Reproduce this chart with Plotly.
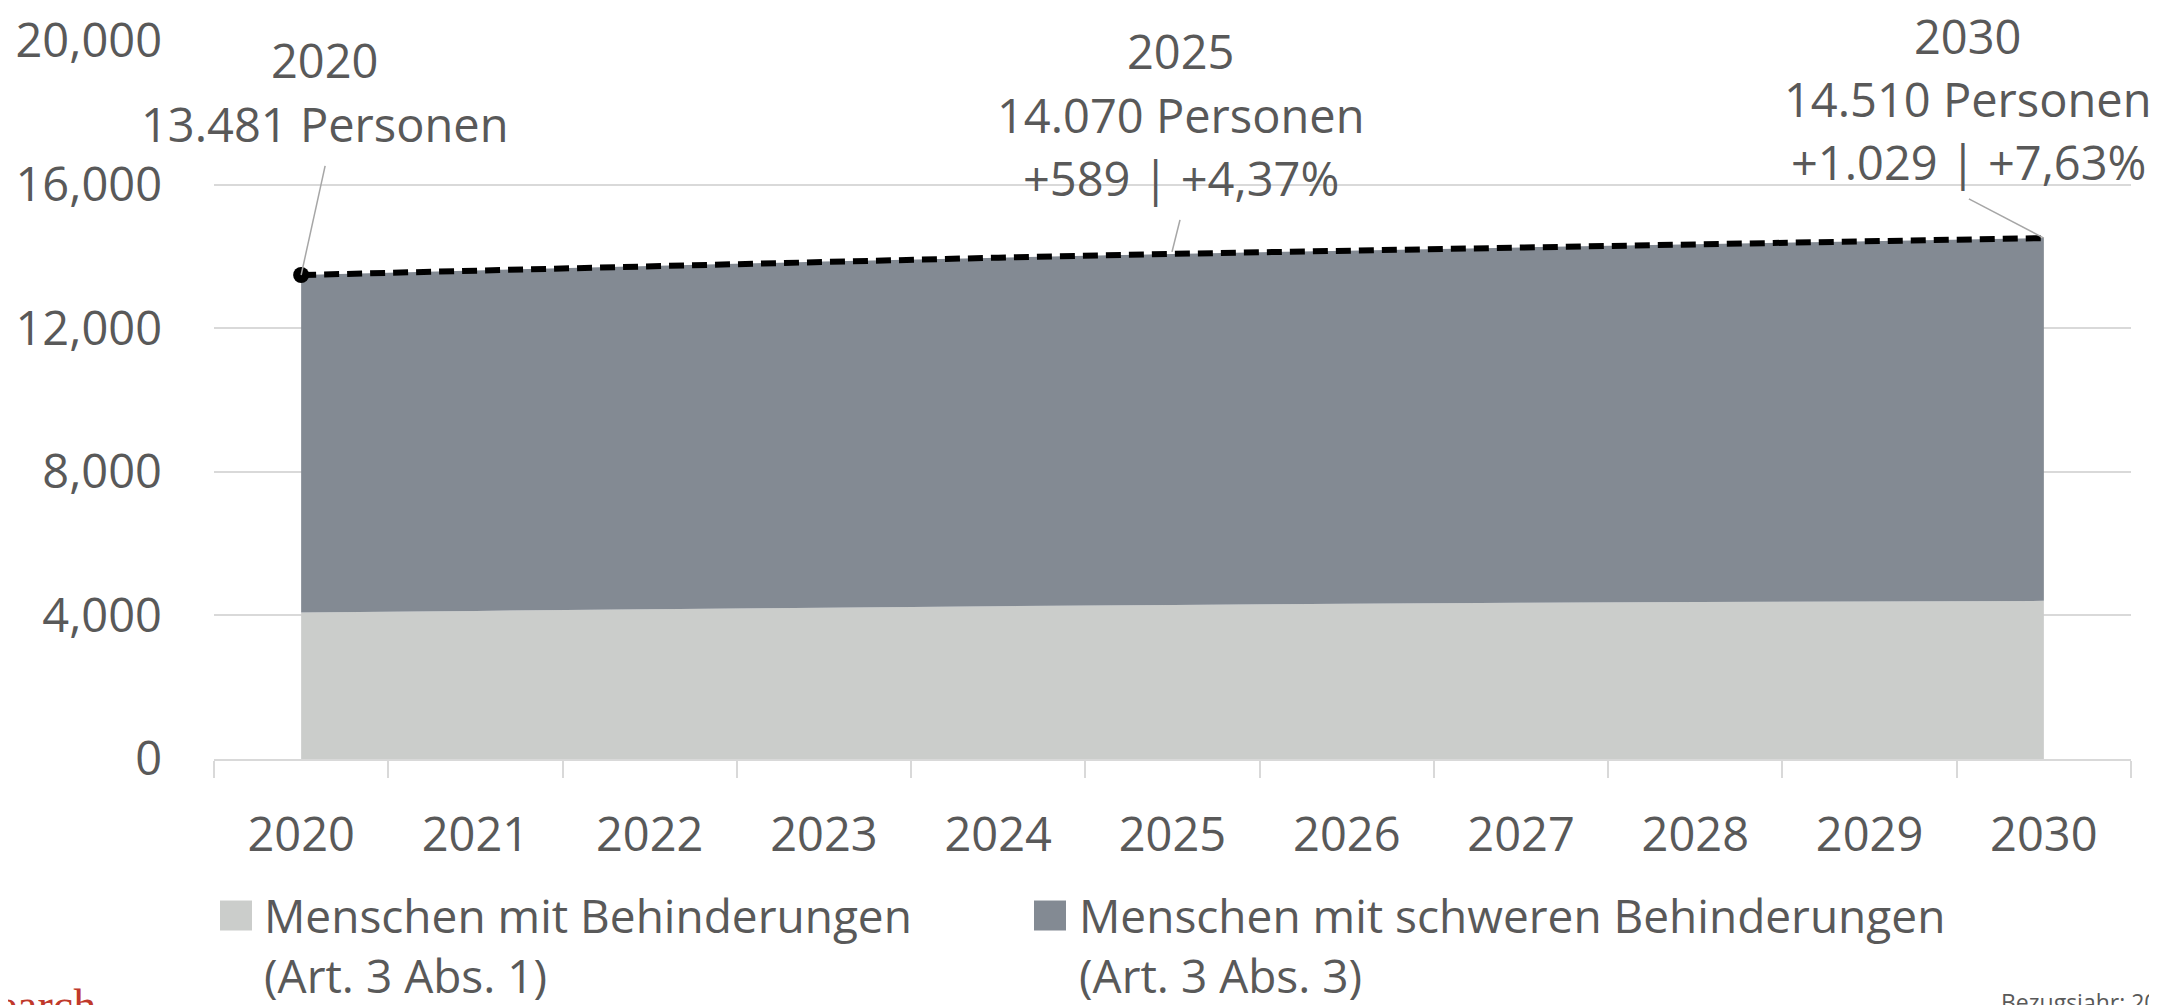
import plotly.graph_objects as go

# ---- data ----
years = ["2020", "2021", "2022", "2023", "2024", "2025", "2026", "2027", "2028", "2029", "2030"]
behinderungen = [4080, 4125, 4170, 4215, 4255, 4290, 4325, 4350, 4370, 4390, 4405]          # Art. 3 Abs. 1
schwere_behinderungen = [9401, 9485, 9565, 9640, 9710, 9780, 9835, 9900, 9970, 10035, 10105]  # Art. 3 Abs. 3
y_ticks = [0, 4000, 8000, 12000, 16000, 20000]

name_light = "Menschen mit Behinderungen<br>(Art. 3 Abs. 1)"
name_dark = "Menschen mit schweren Behinderungen<br>(Art. 3 Abs. 3)"

ann_2020 = ["2020", "13.481 Personen"]
ann_2025 = ["2025", "14.070 Personen", "+589 | +4,37%"]
ann_2030 = ["2030", "14.510 Personen", "+1.029 | +7,63%"]

totals = [a + b for a, b in zip(behinderungen, schwere_behinderungen)]

# ---- styling / geometry (page pixels; the page body has an 8px margin) ----
OFF = 8
W, H = 2157 - OFF, 1005 - OFF
PL, PR, PT, PB = 214, 2131, 41, 759.4   # plot area in page pixels
L, R, T, B = PL - OFF, W - (PR - OFF), PT - OFF, H - (PB - OFF)
FONT = "Open Sans"
TXT = "#595959"
FS = 47
LIGHT = "#cbcdcb"
DARK = "#838a93"

def px(x):
    return (x - PL) / (PR - PL)

def py(y):
    return (PB - y) / (PB - PT)

fig = go.Figure()

fig.add_trace(go.Scatter(x=years, y=behinderungen, stackgroup="one", mode="none",
                         fillcolor=LIGHT, showlegend=False, hoverinfo="skip"))
fig.add_trace(go.Scatter(x=years, y=schwere_behinderungen, stackgroup="one", mode="none",
                         fillcolor=DARK, showlegend=False, hoverinfo="skip"))
fig.add_trace(go.Scatter(x=years, y=totals, mode="lines",
                         line=dict(color="black", width=6, dash="15px,8px"),
                         showlegend=False, hoverinfo="skip"))
fig.add_trace(go.Scatter(x=years[:1], y=totals[:1], mode="markers",
                         marker=dict(color="black", size=16), showlegend=False))

# legend entries (one legend each, to place them like the reference)
fig.add_trace(go.Scatter(x=[None], y=[None], mode="markers", name=name_light, legend="legend",
                         marker=dict(symbol="square", size=16, color=LIGHT)))
fig.add_trace(go.Scatter(x=[None], y=[None], mode="markers", name=name_dark, legend="legend2",
                         marker=dict(symbol="square", size=16, color=DARK)))

annotations = []

def add_lines(lines, cx, ys):
    for t, yy in zip(lines, ys):
        annotations.append(dict(text=t, x=px(cx), y=py(yy - 2), xref="paper", yref="paper",
                                xanchor="center", yanchor="middle", showarrow=False,
                                font=dict(family=FONT, size=FS, color=TXT)))

add_lines(ann_2020, 325, [62, 126])
add_lines(ann_2025, 1181, [53, 117, 180])
add_lines(ann_2030, 1968, [38, 101, 164])

# corner texts (cut by the page edge as in the reference)
annotations.append(dict(text="research", x=px(98), y=py(979), xref="paper", yref="paper",
                        xanchor="right", yanchor="top", showarrow=False,
                        font=dict(family="Liberation Serif", size=46, color="#c0392b")))
annotations.append(dict(text="Bezugsjahr: 2020", x=px(1999), y=py(985), xref="paper", yref="paper",
                        xanchor="left", yanchor="top", showarrow=False,
                        font=dict(family=FONT, size=23, color=TXT)))

def dy(pyv):
    return (PB - pyv) / (PB - PT) * 20000

def dx(pxv):
    return (pxv - 301) / 174.3

shapes = [
    dict(type="line", xref="x", yref="y", x0=dx(325), y0=dy(166), x1=0, y1=totals[0],
         line=dict(color="#a6a6a6", width=1.5)),
    dict(type="line", xref="x", yref="y", x0=dx(1180), y0=dy(220), x1=dx(1172), y1=dy(252),
         line=dict(color="#a6a6a6", width=1.5)),
    dict(type="line", xref="x", yref="y", x0=dx(1969), y0=dy(199), x1=10, y1=totals[-1],
         line=dict(color="#a6a6a6", width=1.5)),
    # larger legend swatches, as in the reference
    dict(type="rect", xref="paper", yref="paper", x0=px(220), x1=px(252), y0=py(931), y1=py(901),
         fillcolor=LIGHT, line=dict(width=0), layer="above"),
    dict(type="rect", xref="paper", yref="paper", x0=px(1034), x1=px(1066), y0=py(931), y1=py(901),
         fillcolor=DARK, line=dict(width=0), layer="above"),
]

leg_common = dict(orientation="h", xanchor="left", yanchor="top",
                  font=dict(family=FONT, size=46, color=TXT), itemwidth=48,
                  valign="top", bgcolor="rgba(0,0,0,0)", itemsizing="trace")

fig.update_layout(
    width=W, height=H,
    margin=dict(l=L, r=R, t=T, b=B, pad=0, autoexpand=False),
    paper_bgcolor="white", plot_bgcolor="white",
    font=dict(family=FONT, size=FS, color=TXT),
    annotations=annotations, shapes=shapes,
    showlegend=True,
    legend=dict(x=px(206), y=py(879), **leg_common),
    legend2=dict(x=px(1021), y=py(879), **leg_common),
)
fig.update_xaxes(type="category", range=[-0.5, 10.5], showgrid=False, showline=True,
                 linecolor="#d9d9d9", linewidth=1.5, ticks="outside", ticklen=17,
                 tickcolor="#d9d9d9", tickwidth=1.5, tickson="boundaries",
                 tickfont=dict(family=FONT, size=FS, color=TXT), ticklabelstandoff=34,
                 zeroline=False, fixedrange=True, automargin=False)
fig.update_yaxes(range=[0, 20000], tickvals=y_ticks, tickformat=",", showgrid=True,
                 gridcolor="#d9d9d9", gridwidth=1.5, showline=False, zeroline=False,
                 ticks="", tickfont=dict(family=FONT, size=FS, color=TXT),
                 ticklabelstandoff=51, ticklabeloverflow="allow",
                 fixedrange=True, automargin=False)

fig.write_html("out.html")
